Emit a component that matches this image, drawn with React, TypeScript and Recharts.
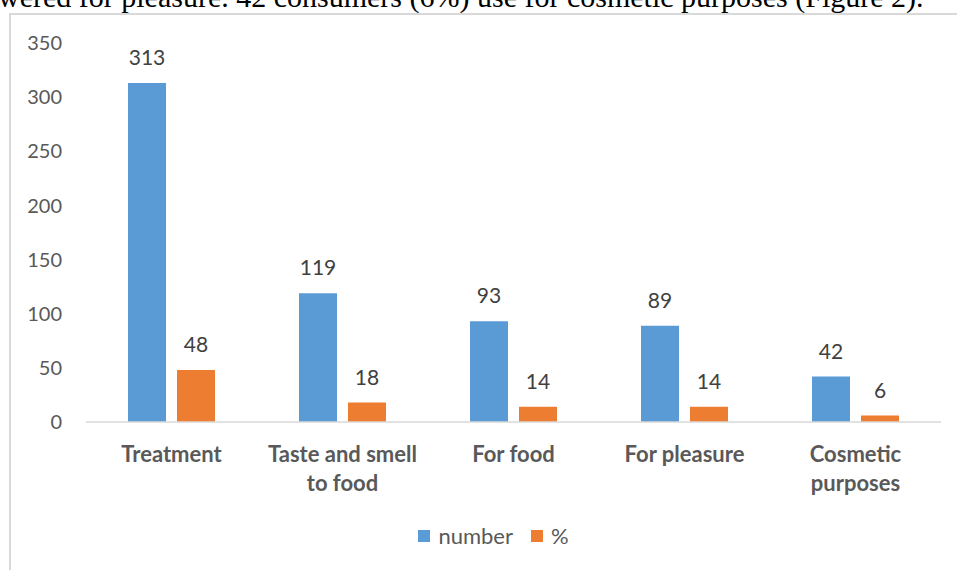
import { BarChart, Bar, XAxis, YAxis, Legend, LabelList } from 'recharts'

const categories = ['Treatment', 'Taste and smell to food', 'For food', 'For pleasure', 'Cosmetic purposes']
const numberValues = [313, 119, 93, 89, 42]
const percentValues = [48, 18, 14, 14, 6]
const yTicks = [0, 50, 100, 150, 200, 250, 300, 350]
const seriesNames = ['number', '%']
const seriesColors = ['#5B9BD5', '#ED7D31']

const data = categories.map((name, i) => ({
  name,
  number: numberValues[i],
  pct: percentValues[i],
}))

const FONT = 'Lato, "Open Sans", sans-serif'

// wrap a label into lines of at most maxChars characters
function wrapWords(text: string, maxChars: number) {
  const lines: string[] = []
  let cur = ''
  for (const w of text.split(' ')) {
    const next = cur ? cur + ' ' + w : w
    if (next.length > maxChars && cur) {
      lines.push(cur)
      cur = w
    } else {
      cur = next
    }
  }
  if (cur) lines.push(cur)
  return lines
}

function CategoryTick(props: any) {
  const { x, y, payload } = props
  const lines = wrapWords(String(payload.value), 16)
  return (
    <text
      x={x}
      y={y + 32}
      textAnchor="middle"
      fontFamily={FONT}
      fontSize={22}
      fontWeight="bold"
      fill="#595959"
    >
      {lines.map((l, i) => (
        <tspan key={i} x={x} dy={i === 0 ? 0 : 28.5}>
          {l}
        </tspan>
      ))}
    </text>
  )
}

function LegendContent() {
  return (
    <div style={{ display: 'flex', justifyContent: 'center', alignItems: 'center', fontFamily: FONT, fontSize: 22, color: '#595959', paddingLeft: 30 }}>
      {seriesNames.map((name, i) => (
        <div key={name} style={{ display: 'flex', alignItems: 'center', marginRight: i === 0 ? 18 : 0 }}>
          <span style={{ display: 'inline-block', width: 12, height: 12, background: seriesColors[i], marginRight: 8 }} />
          <span>{name}</span>
        </div>
      ))}
    </div>
  )
}

export default function App() {
  return (
    <div style={{ position: 'fixed', left: 0, top: 0, width: 957, height: 570, overflow: 'hidden', background: '#fff' }}>
      <div
        style={{
          position: 'absolute',
          left: -2,
          top: -18,
          fontFamily: '"Liberation Serif", serif',
          fontSize: 30,
          lineHeight: '30px',
          whiteSpace: 'nowrap',
          color: '#000',
        }}
      >
        wered for pleasure. 42 consumers (6%) use for cosmetic purposes (Figure 2).
      </div>
      <div
        style={{
          position: 'absolute',
          left: 9,
          top: 13,
          width: 1400,
          height: 900,
          border: '2px solid #d9d9d9',
          boxSizing: 'border-box',
        }}
      />
      <div style={{ position: 'absolute', left: 0, top: 0 }}>
        <BarChart
          width={957}
          height={570}
          data={data}
          margin={{ top: 43, right: 16, bottom: 0, left: 0 }}
          barSize={38}
          barGap={11}
        >
          <XAxis
            dataKey="name"
            height={108}
            tick={<CategoryTick />}
            tickLine={false}
            axisLine={{ stroke: '#d9d9d9', strokeWidth: 1.5 }}
            interval={0}
          />
          <YAxis
            width={86}
            domain={[0, 350]}
            ticks={yTicks}
            axisLine={false}
            tickLine={false}
            tickSize={0}
            tickMargin={24}
            tick={{ fill: '#595959', fontSize: 20, fontFamily: FONT }}
          />
          <Legend verticalAlign="bottom" height={40} content={<LegendContent />} wrapperStyle={{ top: 522, left: 0, width: 957 }} />
          <Bar dataKey="number" name="number" fill={seriesColors[0]} isAnimationActive={false}>
            <LabelList dataKey="number" position="top" offset={18} fill="#404040" fontSize={21} fontFamily={FONT} />
          </Bar>
          <Bar dataKey="pct" name="%" fill={seriesColors[1]} isAnimationActive={false}>
            <LabelList dataKey="pct" position="top" offset={18} fill="#404040" fontSize={21} fontFamily={FONT} />
          </Bar>
        </BarChart>
      </div>
    </div>
  )
}
